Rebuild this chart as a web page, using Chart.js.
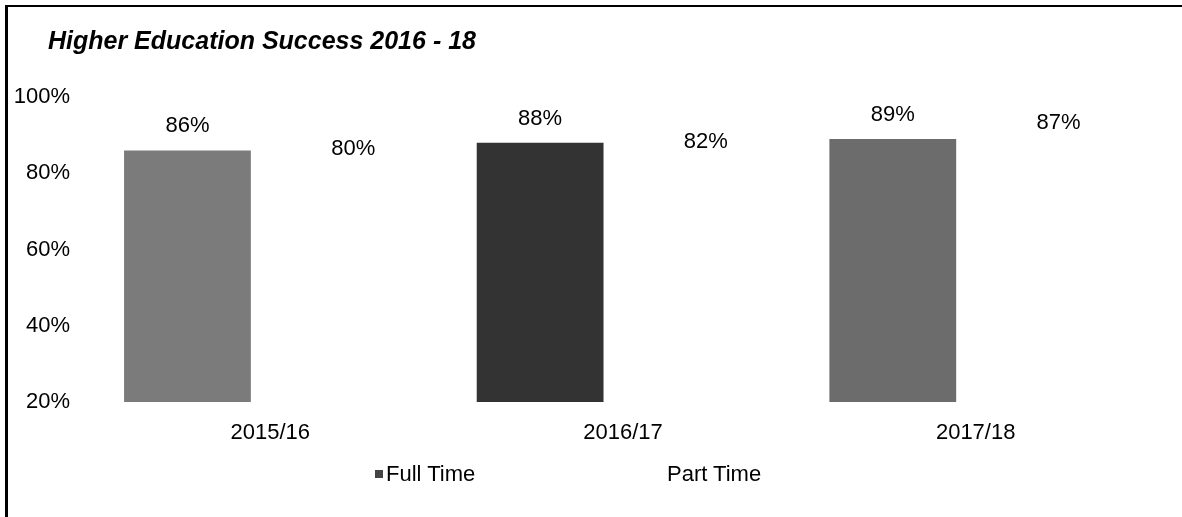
<!DOCTYPE html>
<html>
<head>
<meta charset="utf-8">
<script src="https://cdn.jsdelivr.net/npm/chart.js@4.4.1/dist/chart.umd.min.js"></script>
<style>
    html, body { margin: 0; padding: 0; background: #fff; }
    #wrap { position: relative; width: 1182px; height: 517px; overflow: hidden; }
    #frame { position: absolute; left: 5px; top: 5px; right: -10px; bottom: -10px;
             border-top: 2px solid #000; border-left: 3px solid #000; pointer-events: none; }
    #title { position: absolute; left: 48px; top: 28px; line-height: 1; white-space: nowrap;
             font-family: "Liberation Sans", Arial, sans-serif; font-size: 25px;
             font-weight: bold; font-style: italic; color: #000; }
    #legend { position: absolute; top: 462px; left: 0; width: 1182px; height: 26px;
              font-family: "Liberation Sans", Arial, sans-serif; font-size: 22px; color: #000; }
    .item { position: absolute; top: 0; line-height: 24px; white-space: nowrap; }
    .box { display: inline-block; width: 8px; height: 8px; margin-right: 3px; vertical-align: 3px; }
</style>
</head>
<body>
<div id="wrap">
    <canvas id="chart" width="1182" height="517"></canvas>
    <div id="frame"></div>
    <div id="title"></div>
    <div id="legend"></div>
</div>
<script>
var chartTitle = "Higher Education Success 2016 - 18";
var years = ["2015/16", "2016/17", "2017/18"];
var fullTime = [86, 88, 89];
var partTime = [80, 82, 87];
var seriesNames = ["Full Time", "Part Time"];
var yTicks = [20, 40, 60, 80, 100];

// scanned bars came out in different greys
var fullColors = ["#7b7b7b", "#333333", "#6c6c6c"];

const FONT = '"Liberation Sans", Arial, sans-serif';

document.getElementById('title').textContent = chartTitle;

// value labels sit a little above each value (part time bars are not drawn)
const valueLabels = {
    id: 'valueLabels',
    afterDatasetsDraw(chart) {
        const ctx = chart.ctx;
        ctx.save();
        ctx.font = '22px ' + FONT;
        ctx.fillStyle = '#000';
        ctx.textAlign = 'center';
        ctx.textBaseline = 'middle';
        chart.data.datasets.forEach((ds, i) => {
            const meta = chart.getDatasetMeta(i);
            meta.data.forEach((bar, j) => {
                ctx.fillText(ds.data[j] + '%', bar.x, bar.y - 24);
            });
        });
        ctx.restore();
    }
};

const ctx = document.getElementById('chart').getContext('2d');
const chart = new Chart(ctx, {
    type: 'bar',
    data: {
        labels: years,
        datasets: [
            { label: seriesNames[0], data: fullTime, backgroundColor: fullColors },
            { label: seriesNames[1], data: partTime, backgroundColor: 'rgba(0,0,0,0)' }
        ]
    },
    options: {
        responsive: false,
        animation: false,
        categoryPercentage: 0.94,
        barPercentage: 0.765,
        layout: { padding: { left: 6, right: 30, top: 97, bottom: 55 } },
        plugins: {
            legend: { display: false },
            tooltip: { enabled: false }
        },
        scales: {
            x: {
                afterFit(scale) { scale.height = 60; },
                grid: { display: false, drawTicks: false },
                border: { display: false },
                ticks: { color: '#000', font: { family: FONT, size: 22 }, padding: 18 }
            },
            y: {
                min: 20,
                max: 100,
                afterFit(scale) { scale.width = 88; },
                afterBuildTicks(scale) { scale.ticks = yTicks.map(v => ({ value: v })); },
                grid: { display: false, drawTicks: false },
                border: { display: false },
                ticks: {
                    color: '#000',
                    font: { family: FONT, size: 22 },
                    padding: 24,
                    callback: v => v + '%'
                }
            }
        }
    },
    plugins: [valueLabels]
});

// legend drawn as html so the wide gap between items can be kept
const legendX = [375, 656];
const legend = document.getElementById('legend');
seriesNames.forEach((name, i) => {
    const item = document.createElement('div');
    item.className = 'item';
    item.style.left = legendX[i] + 'px';
    const color = i === 0 ? '#444444' : 'transparent';
    item.innerHTML = '<span class="box" style="background:' + color + '"></span>' + name;
    legend.appendChild(item);
});
</script>
</body>
</html>
